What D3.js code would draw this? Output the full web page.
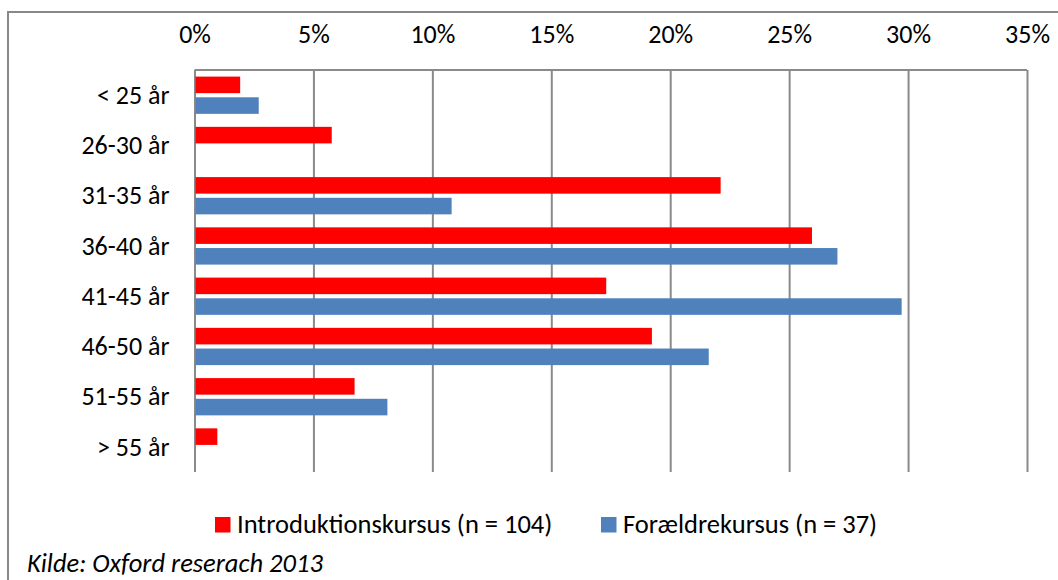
<!DOCTYPE html>
<html>
<head>
<meta charset="utf-8">
<title>Aldersfordeling</title>
<script src="https://d3js.org/d3.v7.min.js"></script>
<style>
  body { margin: 0; background: #fff; }
  svg text { font-family: Carlito, Calibri, Lato, sans-serif; fill: #000; }
</style>
</head>
<body>
<svg id="chart" width="1058" height="580"></svg>
<script>
// data (percent)
const categories = ["< 25 år", "26-30 år", "31-35 år", "36-40 år", "41-45 år", "46-50 år", "51-55 år", "> 55 år"];
const seriesNames = ["Introduktionskursus (n = 104)", "Forældrekursus (n = 37)"];
const introValues = [1.92, 5.77, 22.12, 25.96, 17.31, 19.23, 6.73, 0.96];
const foraeldreValues = [2.70, 0, 10.81, 27.03, 29.73, 21.62, 8.11, 0];
const tickValues = [0, 5, 10, 15, 20, 25, 30, 35];
const colors = ["#ff0000", "#4f81bd"];
const sourceNote = "Kilde: Oxford reserach 2013";

const svg = d3.select("#chart");
const fontSize = 26;
const gridColor = "#8a8a8a";

// outer frame (right and bottom run off the picture)
svg.append("rect")
  .attr("x", 8).attr("y", 12)
  .attr("width", 1100).attr("height", 640)
  .attr("fill", "none").attr("stroke", "#888").attr("stroke-width", 2);

const plotL = 194.5, plotR = 1027, plotT = 70, plotB = 472;
const x = d3.scaleLinear().domain([0, 35]).range([plotL, plotR]);
const y = d3.scaleBand().domain(categories).range([plotT, plotB]);
const ySub = d3.scaleBand().domain(seriesNames)
  .range([6.6, y.bandwidth() - 6.4]).paddingInner(0.2);

// gridlines
svg.append("g")
  .attr("transform", "translate(0," + plotT + ")")
  .call(d3.axisTop(x).tickValues(tickValues).tickSize(-(plotB - plotT)).tickFormat(""))
  .call(g => g.select(".domain").remove())
  .call(g => g.selectAll("line").attr("stroke", gridColor).attr("stroke-width", 2));

// top edge of plot area
svg.append("line")
  .attr("x1", plotL).attr("x2", plotR).attr("y1", plotT).attr("y2", plotT)
  .attr("stroke", gridColor).attr("stroke-width", 2);

// x labels on top
svg.append("g")
  .attr("transform", "translate(0," + plotT + ")")
  .call(d3.axisTop(x).tickValues(tickValues).tickSize(0).tickPadding(27).tickFormat(d => d + "%"))
  .call(g => g.select(".domain").remove())
  .call(g => g.selectAll("text").style("font-size", fontSize + "px").attr("fill", "#000"));

// category labels
svg.append("g")
  .attr("transform", "translate(" + plotL + ",0)")
  .call(d3.axisLeft(y).tickSize(0).tickPadding(25))
  .call(g => g.select(".domain").remove())
  .call(g => g.selectAll("text").style("font-size", fontSize + "px").attr("fill", "#000").attr("dy", "0.34em"));

const rows = categories.map((c, i) => ({ cat: c, vals: [introValues[i], foraeldreValues[i]] }));

svg.append("g").selectAll("g")
  .data(rows).enter().append("g")
  .attr("transform", d => "translate(0," + y(d.cat) + ")")
  .selectAll("rect")
  .data(d => d.vals.map((v, j) => ({ name: seriesNames[j], v: v, j: j })).filter(e => e.v > 0))
  .enter().append("rect")
  .attr("x", x(0) + 1)
  .attr("y", d => ySub(d.name))
  .attr("width", d => x(d.v) - x(0) - 1)
  .attr("height", ySub.bandwidth())
  .attr("fill", d => colors[d.j]);

// legend
const legendX = [215, 601];
const legend = svg.append("g").selectAll("g")
  .data(seriesNames).enter().append("g")
  .attr("transform", (d, i) => "translate(" + legendX[i] + ",517)");
legend.append("rect").attr("width", 15.5).attr("height", 15.5).attr("fill", (d, i) => colors[i]);
legend.append("text").attr("x", 22).attr("y", 15.5).style("font-size", "26.5px").text(d => d);

// source note
svg.append("text")
  .attr("x", 27).attr("y", 572)
  .style("font-size", "26.5px").style("font-style", "italic")
  .text(sourceNote);
</script>
</body>
</html>
